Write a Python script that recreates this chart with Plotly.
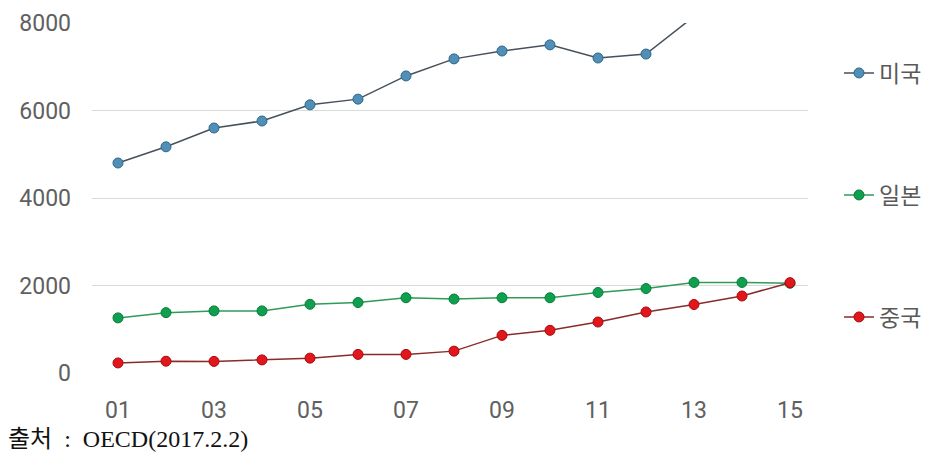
import plotly.graph_objects as go

years = list(range(1, 16))
tick_vals = [1, 3, 5, 7, 9, 11, 13, 15]
tick_text = ["01", "03", "05", "07", "09", "11", "13", "15"]
y_ticks = [0, 2000, 4000, 6000, 8000]

usa = [4800, 5170, 5600, 5760, 6130, 6260, 6790, 7180, 7360, 7500, 7200, 7290, 8150, 8450, 8750]
japan = [1260, 1380, 1420, 1420, 1570, 1610, 1720, 1690, 1720, 1720, 1840, 1930, 2070, 2070, 2050]
china = [230, 270, 265, 300, 340, 425, 425, 500, 860, 975, 1165, 1395, 1565, 1760, 2065]

names = ["미국", "일본", "중국"]

fig = go.Figure()
fig.add_trace(go.Scatter(
    x=years, y=usa, name=names[0], mode="lines+markers",
    line=dict(color="#47505a", width=1.5),
    marker=dict(size=10, color="#4f8fb8", line=dict(color="#2f6688", width=1)),
    legend="legend",
))
fig.add_trace(go.Scatter(
    x=years, y=japan, name=names[1], mode="lines+markers",
    line=dict(color="#2f9a5a", width=1.5),
    marker=dict(size=10, color="#0fa04f", line=dict(color="#0a7a3a", width=1)),
    legend="legend2",
))
fig.add_trace(go.Scatter(
    x=years, y=china, name=names[2], mode="lines+markers",
    line=dict(color="#8a2a2a", width=1.5),
    marker=dict(size=10, color="#e3161c", line=dict(color="#a00d10", width=1)),
    legend="legend3",
))

W, H = 930, 457
L, R, T, B = 92, 122, 23, 84
PW, PH = W - L - R, H - T - B

leg_font = dict(family="Noto Sans CJK KR, Noto Sans", size=23, color="#595959")
def leg(ypix):
    return dict(x=(839 - L) / PW, y=(H - B - ypix) / PH, xref="paper", yref="paper",
                xanchor="left", yanchor="middle", font=leg_font,
                bgcolor="rgba(0,0,0,0)", borderwidth=0)

fig.update_layout(
    width=W, height=H,
    margin=dict(l=L, r=R, t=T, b=B, autoexpand=False),
    paper_bgcolor="white", plot_bgcolor="white",
    showlegend=True,
    legend=leg(73),
    legend2=leg(195),
    legend3=leg(317),
    xaxis=dict(
        range=[1 - 26 / 48, 15 + 18 / 48],
        tickvals=tick_vals, ticktext=tick_text,
        showgrid=False, zeroline=False, showline=False, ticks="",
        tickfont=dict(family="Roboto, Noto Sans", size=23, color="#606060"),
        ticklabelstandoff=21,
    ),
    yaxis=dict(
        range=[0, 8000], tickvals=y_ticks,
        showgrid=True, gridcolor="#d9d9d9", gridwidth=1,
        zeroline=False, showline=False, ticks="",
        tickfont=dict(family="Roboto, Noto Sans", size=23, color="#606060"),
        ticklabelstandoff=20,
    ),
    annotations=[dict(
        text="출처\u00a0\u00a0:\u00a0\u00a0OECD(2017.2.2)",
        xref="paper", yref="paper",
        x=(6 - L) / PW, y=(H - B - 439) / PH, xanchor="left", yanchor="middle",
        showarrow=False,
        font=dict(family="Liberation Serif, Noto Sans CJK KR", size=24, color="#111111"),
    )],
)

fig.write_html("out.html")
